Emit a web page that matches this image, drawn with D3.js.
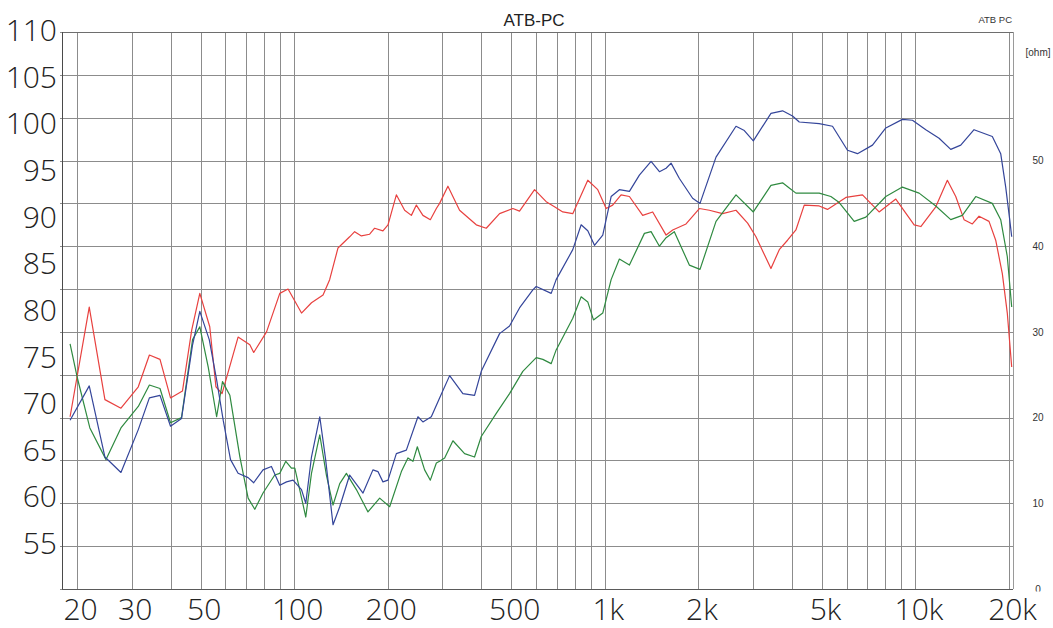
<!DOCTYPE html>
<html><head><meta charset="utf-8">
<script src="https://cdn.jsdelivr.net/npm/d3@7"></script>
<style>
html,body{margin:0;padding:0;background:#fff;}
svg{display:block;}
</style></head><body>
<svg id="chart" width="1053" height="628"></svg>
<script>
// ---- labels and ticks ----
const title = "ATB-PC";
const cornerLabel = "ATB PC";
const ohmUnit = "[ohm]";
const splTicks = [110, 105, 100, 95, 90, 85, 80, 75, 70, 65, 60, 55];
const ohmTicks = [0, 10, 20, 30, 40, 50];
const freqTicks = [20, 30, 50, 100, 200, 500, 1000, 2000, 5000, 10000, 20000];
const freqTickLabels = ["20", "30", "50", "100", "200", "500", "1k", "2k", "5k", "10k", "20k"];
const gridFreqs = [20, 30, 40, 50, 60, 70, 80, 90, 100, 200, 300, 400, 500, 600, 700, 800, 900,
  1000, 2000, 3000, 4000, 5000, 6000, 7000, 8000, 9000, 10000, 20000];
const gridLevels = [45, 50, 55, 60, 65, 70, 75, 80, 85, 90, 95, 100, 105, 110];

// ---- measured responses (Hz, dB) ----
const redFreq = [19.0, 21.9, 24.6, 27.7, 31.5, 34.2, 37.0, 40.0, 43.7, 46.8, 49.7, 53.5, 56.0, 58.6, 66.0, 72.0, 74.1, 81.5, 89.9, 95.6,
  105.6, 113.7, 123.9, 130.1, 138.4, 150.9, 156.6, 164.6, 175.0, 181.6, 193.1, 200.5, 213.3, 226.8, 238.4, 247.4, 259.7, 274.4, 286.9, 293.9,
  312.6, 340.8, 385.7, 415.3, 458.4, 505.8, 531.4, 594.1, 647.6, 688.7, 732.3, 788.6, 881.4, 949.1, 1010, 1060, 1128, 1200, 1324, 1426,
  1575, 1654, 1826, 2015, 2170, 2394, 2644, 2882, 3066, 3426, 3644, 3874, 4122, 4384, 4898, 5208, 5970, 6752, 7638, 8644,
  9900, 10404, 11624, 12666, 13478, 14332, 15242, 16016, 17248, 18124, 19034, 19748, 20404];
const redDb = [65.1, 77.9, 67.1, 66.1, 68.6, 72.3, 71.8, 67.3, 68.1, 75.2, 79.5, 75.6, 68.6, 67.8, 74.4, 73.5, 72.6, 75.0, 79.5, 80.0,
  77.2, 78.4, 79.3, 81.1, 84.8, 86.1, 86.7, 86.2, 86.4, 87.1, 86.8, 87.5, 91.0, 89.2, 88.6, 89.8, 88.6, 88.1, 89.4, 90.0,
  92.0, 89.2, 87.5, 87.1, 88.8, 89.4, 89.1, 91.6, 90.2, 89.6, 89.0, 88.8, 92.7, 91.6, 89.4, 89.8, 91.0, 90.8, 88.6, 89.0,
  86.3, 86.9, 87.6, 89.4, 89.2, 88.8, 89.2, 87.7, 86.1, 82.4, 84.6, 85.7, 86.9, 89.8, 89.7, 89.3, 90.7, 91.0, 89.0, 90.5,
  87.5, 87.3, 89.6, 92.7, 90.8, 88.1, 87.6, 88.5, 87.9, 85.7, 81.8, 77.2, 70.9];

const blueFreq = [19.0, 21.9, 24.6, 27.7, 31.5, 34.2, 37.0, 40.0, 43.4, 47.1, 49.7, 53.3, 56.3, 59.1, 62.4, 66.0, 71.1, 74.1, 79.4, 84.5,
  89.9, 94.5, 99.2, 105.6, 109.0, 113.7, 120.9, 126.3, 133.4, 140.2, 150.9, 166.6, 179.3, 186.1, 193.1, 200.5, 213.3, 229.7, 250.3, 259.7,
  276.4, 293.9, 316.6, 349.2, 380.8, 400.2, 458.4, 493.6, 531.4, 586.6, 601.5, 672.1, 697.3, 788.6, 839.2, 881.4, 926.2, 984.9, 1048, 1114,
  1200, 1292, 1409, 1499, 1575, 1634, 1738, 1917, 2025, 2280, 2644, 2812, 3006, 3426, 3734, 4020, 4226, 4898, 5406, 6042,
  6506, 7272, 8026, 9076, 9778, 10796, 11912, 12988, 13988, 15436, 17674, 18808, 19518, 20106, 20404];
const blueDb = [64.7, 68.7, 60.4, 58.6, 63.6, 67.3, 67.6, 64.0, 64.9, 73.5, 77.4, 74.1, 69.4, 64.7, 60.1, 58.5, 58.0, 57.4, 58.9, 59.3,
  57.1, 57.5, 57.7, 56.6, 55.0, 60.4, 65.1, 60.1, 52.5, 54.6, 58.3, 56.2, 58.9, 58.7, 57.5, 57.7, 60.8, 61.2, 65.1, 64.5,
  65.1, 67.3, 69.9, 67.8, 67.6, 70.4, 74.8, 75.7, 77.8, 79.9, 80.3, 79.5, 81.1, 84.6, 87.5, 86.8, 85.1, 86.3, 90.8, 91.6,
  91.4, 93.3, 94.9, 93.7, 94.1, 94.7, 92.9, 90.6, 90.0, 95.4, 99.0, 98.5, 97.3, 100.5, 100.8, 100.2, 99.5, 99.3, 99.0, 96.2,
  95.8, 96.8, 98.8, 99.8, 99.7, 98.6, 97.6, 96.3, 96.8, 98.6, 97.8, 95.8, 91.9, 88.1, 86.1];

const greenFreq = [19.0, 20.0, 22.0, 24.8, 27.7, 31.5, 34.2, 37.0, 40.0, 43.4, 47.1, 49.7, 52.9, 56.3, 58.8, 62.1, 66.9, 71.1, 74.7, 79.4,
  86.6, 89.9, 94.0, 98.0, 100.5, 104.2, 109.0, 113.7, 120.9, 127.0, 133.4, 140.2, 147.3, 158.6, 172.8, 188.5, 203.0, 221.4, 232.4, 241.2,
  249.2, 263.0, 274.4, 286.9, 293.9, 305.1, 324.4, 353.7, 380.8, 400.2, 447.3, 493.6, 544.5, 601.5, 631.6, 672.1, 697.3, 788.6, 839.2, 881.4,
  919.4, 984.9, 1048, 1114, 1200, 1341, 1409, 1499, 1575, 1674, 1871, 2025, 2280, 2644, 3006, 3426, 3734, 3924, 4122, 4898,
  5342, 5682, 6350, 6924, 8026, 9076, 10272, 11624, 12988, 14154, 15630, 17674, 18808, 19748, 20404];
const greenDb = [73.6, 69.8, 63.8, 60.1, 63.8, 66.3, 68.8, 68.4, 64.4, 65.0, 74.1, 75.6, 70.9, 65.1, 69.2, 67.6, 60.4, 55.6, 54.3, 56.2,
  58.3, 58.5, 59.9, 59.1, 59.1, 56.6, 53.4, 58.5, 63.0, 58.3, 54.8, 57.3, 58.5, 56.6, 54.0, 55.6, 54.6, 58.7, 60.3, 59.9,
  61.6, 58.9, 57.7, 59.7, 59.9, 60.3, 62.3, 60.8, 60.4, 62.8, 65.5, 67.8, 70.4, 72.0, 71.8, 71.3, 72.9, 76.6, 79.1, 78.5,
  76.4, 77.2, 81.1, 83.5, 82.8, 86.5, 86.7, 85.0, 86.0, 86.7, 82.8, 82.3, 87.9, 91.0, 89.0, 92.1, 92.4, 91.8, 91.2, 91.2,
  90.8, 90.1, 87.9, 88.4, 90.8, 91.9, 91.2, 89.7, 88.1, 88.6, 90.8, 90.0, 88.1, 83.8, 77.9];

const series = [
  { name: "red", freq: redFreq, db: redDb, color: "#e8413f" },
  { name: "green", freq: greenFreq, db: greenDb, color: "#2f8a40" },
  { name: "blue", freq: blueFreq, db: blueDb, color: "#34459a" }
];

// ---- layout ----
const svg = d3.select("#chart");
const plotL = 62, plotR = 1013, plotT = 32, plotB = 589;

const x = d3.scaleLog().domain([20, 20000]).range([77, 1009]);
const y = d3.scaleLinear().domain([45, 110]).range([plotB, plotT]);
const yOhm = d3.scaleLinear().domain([0, 65]).range([plotB, plotT]);
const yLabel = d3.scaleLinear().domain([55, 110]).range([544, 31]);

const snap = v => Math.round(v) + 0.5;

// grid
const grid = svg.append("g").attr("shape-rendering", "crispEdges");
grid.selectAll("line.h").data(gridLevels).join("line")
  .attr("x1", plotL - 2).attr("x2", plotR)
  .attr("y1", d => snap(y(d))).attr("y2", d => snap(y(d)))
  .attr("stroke", "#8c8c8c").attr("stroke-width", 1);
grid.selectAll("line.v").data(gridFreqs).join("line")
  .attr("x1", d => snap(x(d))).attr("x2", d => snap(x(d)))
  .attr("y1", plotT).attr("y2", plotB)
  .attr("stroke", "#8c8c8c").attr("stroke-width", 1);

// frame
grid.append("line").attr("x1", snap(plotR)).attr("x2", snap(plotR)).attr("y1", plotT).attr("y2", plotB)
  .attr("stroke", "#9a9a9a");
grid.append("line").attr("x1", plotL).attr("x2", plotR).attr("y1", snap(plotT)).attr("y2", snap(plotT))
  .attr("stroke", "#6e6e6e");
grid.append("line").attr("x1", snap(plotL)).attr("x2", snap(plotL)).attr("y1", plotT).attr("y2", plotB + 1)
  .attr("stroke", "#4a4a4a").attr("stroke-width", 1.5);
grid.append("line").attr("x1", plotL).attr("x2", plotR).attr("y1", snap(plotB)).attr("y2", snap(plotB))
  .attr("stroke", "#5a5a5a").attr("stroke-width", 1.5);

// curves
const line = d3.line().x(d => x(d[0])).y(d => y(d[1]));
svg.append("g").selectAll("path").data(series).join("path")
  .attr("d", s => line(s.freq.map((f, i) => [f, s.db[i]])))
  .attr("fill", "none")
  .attr("stroke", s => s.color)
  .attr("stroke-width", 1.2)
  .attr("stroke-linejoin", "round");

// right impedance axis
const ohmAxis = svg.append("g").attr("transform", "translate(1038,0)")
  .call(d3.axisRight(yOhm).tickValues(ohmTicks).tickSize(0).tickPadding(0));
ohmAxis.select(".domain").remove();
ohmAxis.selectAll("text").attr("text-anchor", "middle")
  .attr("font-family", "Liberation Sans, Arial, sans-serif").attr("font-size", 10).attr("fill", "#333");

// band under the plot
svg.append("rect").attr("x", 0).attr("y", plotB + 2.5).attr("width", 1053).attr("height", 628 - plotB).attr("fill", "#fff");

// left level labels
const lev = svg.append("g").attr("transform", "translate(57,0)")
  .call(d3.axisLeft(yLabel).tickValues(splTicks).tickSize(0).tickPadding(0));
lev.select(".domain").remove();
lev.selectAll("text").attr("font-family", "Open Sans, Liberation Sans, sans-serif")
  .attr("font-weight", 300).attr("font-size", 30).attr("fill", "#222");

// frequency labels
const fax = svg.append("g").attr("transform", `translate(3,${plotB})`)
  .call(d3.axisBottom(x).tickValues(freqTicks).tickFormat((d, i) => freqTickLabels[i]).tickSize(0).tickPadding(10));
fax.select(".domain").remove();
fax.selectAll("text").attr("font-family", "Open Sans, Liberation Sans, sans-serif")
  .attr("font-weight", 300).attr("font-size", 30).attr("fill", "#222");

// titles
svg.append("text").attr("x", 534).attr("y", 26).attr("text-anchor", "middle")
  .attr("font-family", "Liberation Sans, Arial, sans-serif").attr("font-size", 17).attr("fill", "#222").text(title);
svg.append("text").attr("x", 1012).attr("y", 23).attr("text-anchor", "end")
  .attr("font-family", "Liberation Sans, Arial, sans-serif").attr("font-size", 9.5).attr("fill", "#333").text(cornerLabel);
svg.append("text").attr("x", 1038).attr("y", 56).attr("text-anchor", "middle")
  .attr("font-family", "Liberation Sans, Arial, sans-serif").attr("font-size", 10).attr("fill", "#333").text(ohmUnit);
</script>
</body></html>
